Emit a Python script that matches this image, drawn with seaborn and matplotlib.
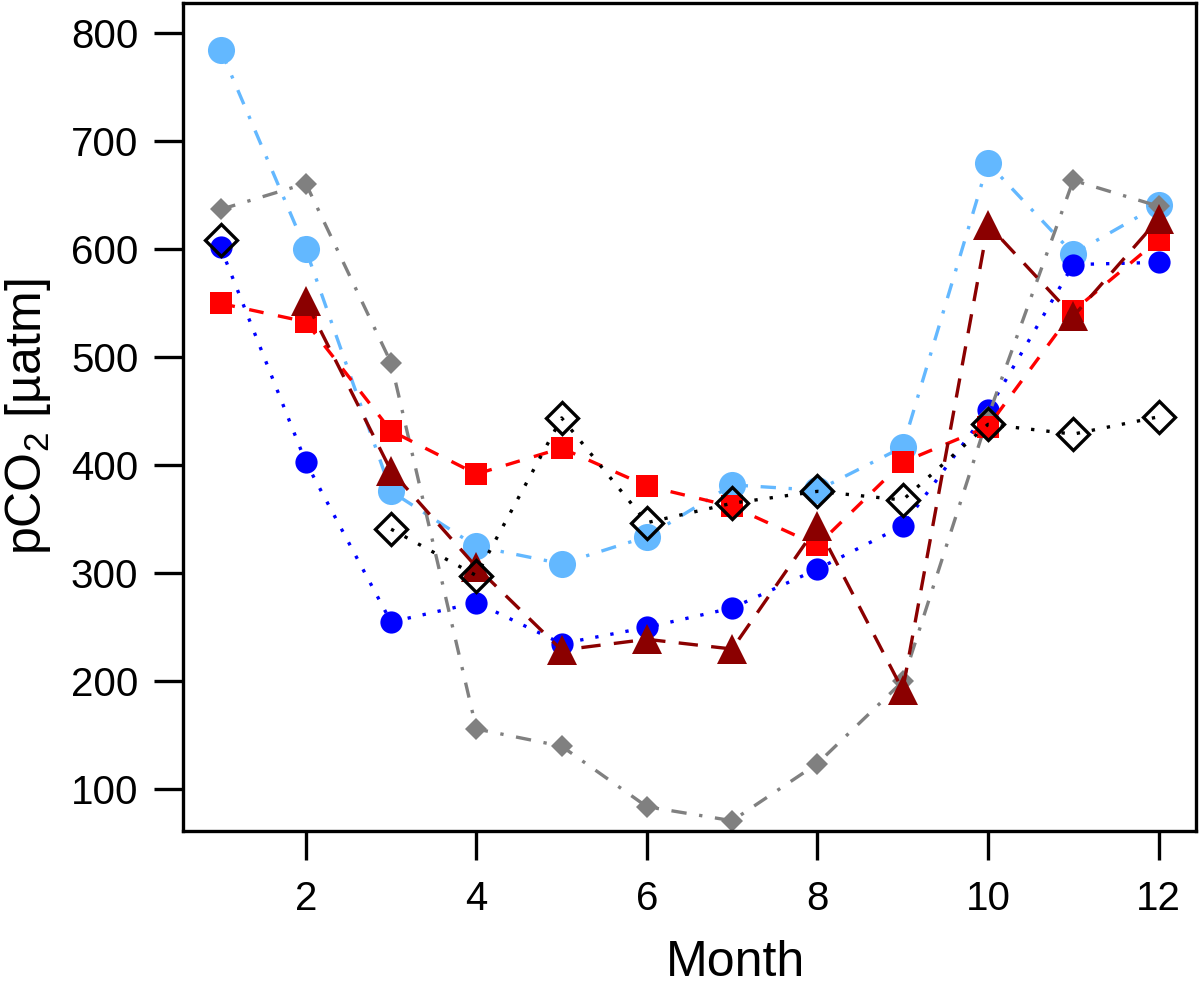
import numpy as np
import pandas as pd
import matplotlib
matplotlib.use("Agg")
import matplotlib.pyplot as plt
import seaborn as sns

months = list(range(1, 13))
nan = np.nan

# monthly pCO2 values (uatm)
light_blue = [785, 600, 376, 325, 309, 334, 382, 377, 417, 680, 596, 641]
blue = [602, 403, 255, 273, 235, 250, 268, 304, 344, 451, 586, 588]
gray = [637, 661, 495, 156, 140, 84, 71, 124, 200, 445, 664, 640]
red = [550, 533, 432, 392, 416, 381, 362, 326, 403, 436, 543, 609]
dark_red = [nan, 552, 395, 306, 229, 239, 230, 344, 192, 623, 538, 628]
black = [609, nan, 341, 298, 444, 347, 365, 376, 368, 438, 429, 445]

xticks = [2, 4, 6, 8, 10, 12]
yticks = [100, 200, 300, 400, 500, 600, 700, 800]

sns.set_style("white")
plt.rcParams["font.family"] = ["Liberation Sans", "DejaVu Sans"]
plt.rcParams["mathtext.fontset"] = "custom"
plt.rcParams["mathtext.rm"] = "Liberation Sans"
plt.rcParams["mathtext.it"] = "Liberation Sans:italic"
plt.rcParams["text.color"] = "black"
plt.rcParams["axes.labelcolor"] = "black"


def draw(ax, values, **kw):
    # split at gaps so missing months break the line
    s = pd.Series(values, index=months, dtype=float)
    run = s.isna().cumsum()
    for _, seg in s[s.notna()].groupby(run[s.notna()]):
        sns.lineplot(x=seg.index.values, y=seg.values, ax=ax, estimator=None,
                     sort=False, legend=False, **kw)


fig = plt.figure(figsize=(12, 9.86), dpi=100)
ax = fig.add_axes([0.1523, 0.1572, 0.8444, 0.8401])

lw = 2.4
draw(ax, light_blue, color="#63B8FF", marker="o", markersize=19.5,
     markeredgewidth=0, markeredgecolor="#63B8FF", linewidth=lw,
     linestyle=(0, (4.6, 3.8, 1, 3.8)))
draw(ax, blue, color="#0000FF", marker="o", markersize=16,
     markeredgewidth=0, markeredgecolor="#0000FF", linewidth=lw,
     linestyle=(0, (1, 3.6)))
draw(ax, gray, color="#808080", marker="D", markersize=10.8,
     markeredgewidth=0, markeredgecolor="#808080", linewidth=lw,
     linestyle=(0, (4.6, 3.8, 1, 3.8)))
draw(ax, red, color="#FF0000", marker="s", markersize=16,
     markeredgewidth=0, markeredgecolor="#FF0000", linewidth=lw,
     linestyle=(0, (4.4, 4.4)))
draw(ax, dark_red, color="#8B0000", marker="^", markersize=21,
     markeredgewidth=0, markeredgecolor="#8B0000", linewidth=lw,
     linestyle=(0, (5.8, 4)))
draw(ax, black, color="black", marker="D", markersize=16,
     markerfacecolor="none", markeredgewidth=2.4, markeredgecolor="black",
     linewidth=lw, linestyle=(0, (1, 3.6)))

ax.set_xlim(0.557, 12.44)
ax.set_ylim(61.5, 828.5)
ax.set_xticks(xticks)
ax.set_yticks(yticks)
ax.set_xticklabels([str(t) for t in xticks])
ax.set_yticklabels([str(t) for t in yticks])

for side in ["top", "right", "left", "bottom"]:
    ax.spines[side].set_visible(True)
    ax.spines[side].set_color("black")
    ax.spines[side].set_linewidth(2.4)

ax.tick_params(axis="both", direction="out", length=21, width=2.4,
               labelsize=29, colors="black", left=True, bottom=True)
ax.tick_params(axis="x", pad=14)
ax.tick_params(axis="y", pad=11)

ax.set_xlabel("Month", fontsize=36, color="black")
ax.set_ylabel("pCO$_2$ [µatm]", fontsize=36, color="black")
ax.xaxis.set_label_coords(0.5455, -0.1315)
ax.yaxis.set_label_coords(-0.128, 0.5)

fig.savefig("out.png", dpi=100)
